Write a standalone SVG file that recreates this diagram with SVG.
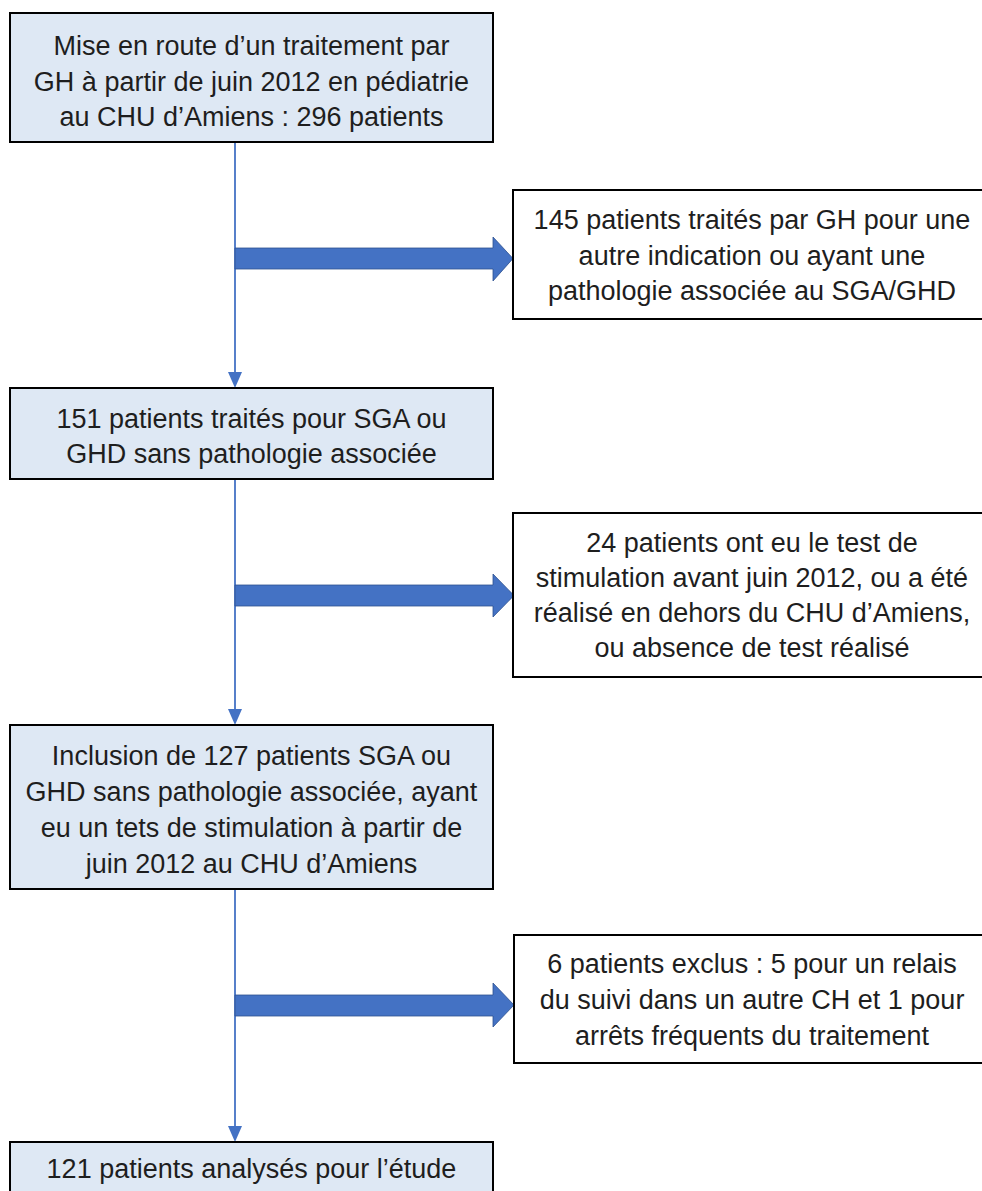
<svg xmlns="http://www.w3.org/2000/svg" width="982" height="1191" viewBox="0 0 982 1191">
  <style>
    .box { stroke: #000; stroke-width: 2; }
    .main { fill: #dee8f4; }
    .side { fill: #ffffff; }
    .t { font-family: "Liberation Sans", Arial, sans-serif; font-size: 27px; fill: #1e1e1e; text-anchor: middle; }
    .line { stroke: #4472c4; stroke-width: 1.8; fill: none; }
    .block { fill: #4472c4; stroke: #2f528f; stroke-width: 0.8; }
    .head { fill: #4472c4; }
  </style>
  <rect width="982" height="1191" fill="#ffffff"/>

  <g id="connectors">
    <line class="line" x1="235" y1="142" x2="235" y2="373"/>
    <polygon class="head" points="228,372 242,372 235,388"/>
    <line class="line" x1="235" y1="479" x2="235" y2="710"/>
    <polygon class="head" points="228,709 242,709 235,725"/>
    <line class="line" x1="235" y1="889" x2="235" y2="1127"/>
    <polygon class="head" points="228,1126 242,1126 235,1142"/>
    <polygon class="block" points="235,248 493,248 493,237 513,258.5 493,281 493,269 235,269"/>
    <polygon class="block" points="235,585 493,585 493,574 514,595.5 493,617 493,606 235,606"/>
    <polygon class="block" points="235,995 493,995 493,983 514,1005 493,1027 493,1016 235,1016"/>
  </g>

  <g id="n1">
    <rect class="box main" x="10" y="13" width="483" height="129"/>
    <text class="t" x="251.5" y="55">Mise en route d’un traitement par</text>
    <text class="t" x="251.5" y="90.5">GH à partir de juin 2012 en pédiatrie</text>
    <text class="t" x="251.5" y="125.5">au CHU d’Amiens : 296 patients</text>
  </g>

  <g id="n2">
    <rect class="box side" x="513" y="190" width="480" height="129"/>
    <text class="t" x="752" y="229">145 patients traités par GH pour une</text>
    <text class="t" x="752" y="264.5">autre indication ou ayant une</text>
    <text class="t" x="752" y="300">pathologie associée au SGA/GHD</text>
  </g>

  <g id="n3">
    <rect class="box main" x="10" y="388" width="483" height="91"/>
    <text class="t" x="251.5" y="428">151 patients traités pour SGA ou</text>
    <text class="t" x="251.5" y="463">GHD sans pathologie associée</text>
  </g>

  <g id="n4">
    <rect class="box side" x="513" y="513" width="480" height="164"/>
    <text class="t" x="752" y="552">24 patients ont eu le test de</text>
    <text class="t" x="752" y="587">stimulation avant juin 2012, ou a été</text>
    <text class="t" x="752" y="622">réalisé en dehors du CHU d’Amiens,</text>
    <text class="t" x="752" y="657">ou absence de test réalisé</text>
  </g>

  <g id="n5">
    <rect class="box main" x="10" y="725" width="483" height="164"/>
    <text class="t" x="251.5" y="765">Inclusion de 127 patients SGA ou</text>
    <text class="t" x="251.5" y="801">GHD sans pathologie associée, ayant</text>
    <text class="t" x="251.5" y="837">eu un tets de stimulation à partir de</text>
    <text class="t" x="251.5" y="873">juin 2012 au CHU d’Amiens</text>
  </g>

  <g id="n6">
    <rect class="box side" x="514" y="935" width="480" height="128"/>
    <text class="t" x="752" y="973">6 patients exclus : 5 pour un relais</text>
    <text class="t" x="752" y="1009">du suivi dans un autre CH et 1 pour</text>
    <text class="t" x="752" y="1045">arrêts fréquents du traitement</text>
  </g>

  <g id="n7">
    <rect class="box main" x="10" y="1142" width="483" height="70"/>
    <text class="t" x="251.5" y="1178">121 patients analysés pour l’étude</text>
  </g>
</svg>
